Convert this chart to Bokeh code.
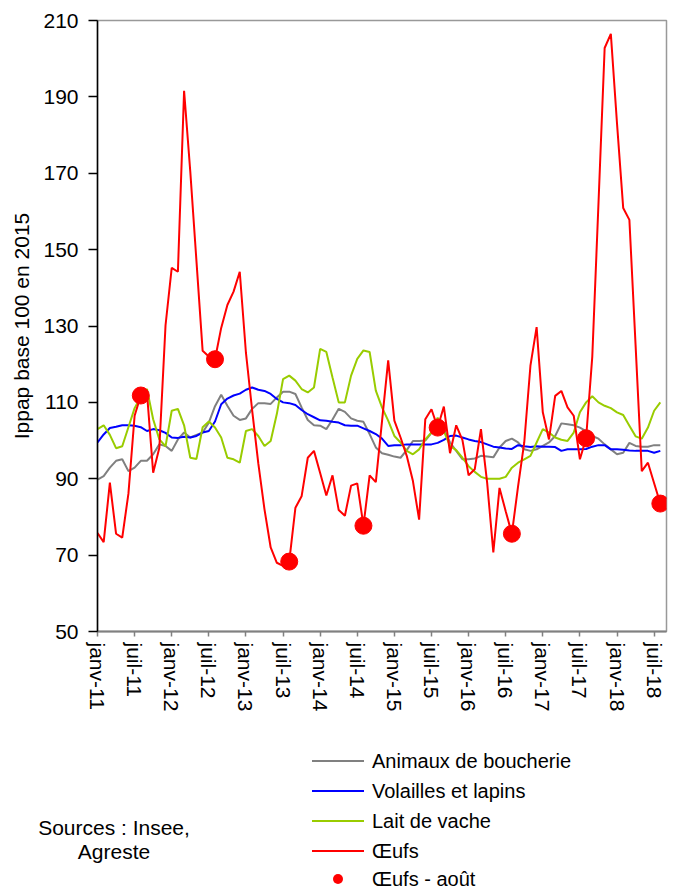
from bokeh.plotting import figure
from bokeh.layouts import column
from bokeh.models import Range1d, FixedTicker, Div
from bokeh.embed import file_html
from bokeh.resources import INLINE

# ---- data (monthly, janv-11 .. août-18) ----
tick_labels = ["janv-11", "juil-11", "janv-12", "juil-12", "janv-13", "juil-13",
               "janv-14", "juil-14", "janv-15", "juil-15", "janv-16", "juil-16",
               "janv-17", "juil-17", "janv-18", "juil-18"]

animaux = [89.8, 90.7, 92.9, 94.7, 95.1, 92.0, 92.9, 94.7, 94.7, 96.4, 99.0, 98.6,
           97.3, 100.3, 102.1, 100.8, 101.5, 102.1, 104.7, 109.0, 112.0, 109.1, 106.5, 105.4,
           105.8, 108.3, 109.8, 109.8, 109.6, 111.3, 112.8, 112.8, 112.2, 108.7, 105.4, 104.0,
           103.9, 103.0, 105.5, 108.3, 107.5, 105.8, 105.2, 104.9, 101.7, 98.2, 96.7, 96.3,
           95.8, 95.5, 97.5, 99.9, 99.9, 100.0, 102.0, 104.0, 103.0, 99.5, 97.3, 95.1,
           95.1, 95.3, 96.0, 95.8, 95.6, 98.2, 99.9, 100.5, 99.5, 97.7, 97.3, 97.7,
           98.6, 99.5, 101.2, 104.5, 104.3, 104.0, 103.4, 102.5, 101.2, 100.5, 99.0, 97.7,
           96.4, 96.8, 99.4, 98.6, 98.4, 98.4, 98.8, 98.8]

volailles = [99.5, 101.6, 103.3, 103.6, 104.0, 104.0, 103.9, 103.5, 102.5, 103.0, 102.7, 102.0,
             100.8, 100.7, 101.0, 100.8, 101.2, 102.1, 102.5, 105.0, 109.5, 111.0, 111.8, 112.3,
             113.3, 113.9, 113.3, 113.0, 112.2, 110.9, 110.0, 109.8, 109.3, 108.0, 106.9, 106.1,
             105.3, 105.2, 104.9, 104.7, 104.0, 103.9, 103.9, 103.2, 102.5, 101.7, 100.5, 98.6,
             98.8, 98.8, 99.0, 99.0, 99.0, 99.0, 99.0, 99.4, 100.2, 101.2, 101.3, 100.8,
             100.3, 99.9, 99.6, 99.0, 98.4, 98.2, 97.9, 97.8, 98.8, 98.5, 98.3, 98.5,
             98.4, 98.4, 98.3, 97.3, 97.7, 97.7, 97.7, 97.8, 98.4, 98.8, 98.8, 97.7,
             97.7, 97.6, 97.4, 97.3, 97.3, 97.3, 96.8, 97.3]

lait = [103.0, 104.0, 101.5, 98.0, 98.5, 103.5, 108.5, 111.5, 113.5, 105.6, 100.3, 98.5,
        107.8, 108.3, 104.0, 95.5, 95.2, 103.5, 105.0, 103.4, 100.8, 95.5, 95.1, 94.2,
        102.5, 103.0, 101.2, 98.6, 99.9, 107.0, 116.1, 117.0, 115.7, 113.5, 112.6, 113.9,
        124.0, 123.2, 116.5, 110.0, 110.0, 117.0, 121.4, 123.6, 123.2, 113.1, 108.7, 105.2,
        101.2, 99.5, 97.3, 96.4, 97.7, 100.3, 102.1, 106.0, 102.5, 98.6, 97.5, 95.5,
        93.3, 91.8, 90.5, 90.0, 90.0, 90.0, 90.5, 92.9, 94.2, 95.1, 96.0, 99.5,
        103.0, 102.1, 100.8, 100.2, 99.9, 102.1, 107.4, 110.0, 111.6, 110.0, 109.1, 108.5,
        107.4, 106.7, 103.9, 101.1, 100.5, 103.4, 107.8, 110.0]

oeufs = [75.8, 73.4, 89.0, 75.6, 74.6, 86.1, 106.5, 111.8, 112.5, 91.6, 98.1, 130.2,
         145.2, 144.2, 191.6, 170.5, 147.0, 123.5, 122.0, 121.3, 129.5, 135.5, 139.0, 144.2,
         123.0, 108.0, 94.0, 82.0, 72.0, 68.0, 67.2, 68.3, 82.4, 85.4, 95.5, 97.3,
         91.5, 85.6, 90.9, 81.8, 80.3, 88.2, 88.8, 77.7, 90.9, 89.1, 105.0, 121.0,
         105.2, 100.8, 96.0, 89.4, 79.3, 105.6, 108.2, 103.4, 108.9, 96.7, 104.0, 100.2,
         90.9, 92.5, 103.0, 89.0, 70.7, 87.6, 81.5, 75.6, 88.0, 99.5, 119.6, 129.7,
         107.4, 100.3, 111.7, 113.0, 108.7, 106.5, 95.1, 100.6, 122.0, 162.0, 202.8, 206.5,
         183.0, 160.9, 157.8, 125.0, 92.0, 94.2, 88.8, 83.5]

y_ticks = [50, 70, 90, 110, 130, 150, 170, 190, 210]
series_names = ["Animaux de boucherie", "Volailles et lapins", "Lait de vache", "Œufs", "Œufs - août"]
source_lines = ["Sources : Insee,", "Agreste"]

# ---- styling ----
FONT = "Liberation Sans"
FS = "21px"
c_gray, c_blue, c_green, c_red = "#808080", "#0000FF", "#99CC00", "#FF0000"

months = list(range(len(oeufs)))
aug_x = [m for m in months if m % 12 == 7]
aug_y = [oeufs[m] for m in aug_x]

W = 668
H1 = 718
FL, FT, FR, FB = 97, 20, 666, 631   # frame edges in canvas pixels
p = figure(width=W, height=H1, output_backend="svg", toolbar_location=None,
           x_range=Range1d(0, 92), y_range=Range1d(50, 210),
           min_border_left=FL, min_border_right=W - FR, min_border_top=FT,
           min_border_bottom=H1 - FB)
p.xgrid.visible = False
p.ygrid.visible = False
p.outline_line_color = "#999999"
p.outline_line_width = 1.5
p.background_fill_color = "white"
p.border_fill_color = "white"

p.line(months, animaux, line_color=c_gray, line_width=2)
p.line(months, volailles, line_color=c_blue, line_width=2)
p.line(months, lait, line_color=c_green, line_width=2)
p.line(months, oeufs, line_color=c_red, line_width=2)
p.scatter(aug_x, aug_y, size=17, fill_color=c_red, line_color=c_red)

# x axis
xa = p.xaxis[0]
xa.ticker = FixedTicker(ticks=[6 * k for k in range(len(tick_labels))])
xa.major_label_overrides = {6 * k: lab for k, lab in enumerate(tick_labels)}
xa.major_label_orientation = "vertical"
xa.axis_line_color = "#808080"
xa.axis_line_width = 2
xa.major_tick_line_color = "#808080"
xa.major_tick_line_width = 1.5
xa.major_tick_out = 5
xa.major_tick_in = 0
xa.minor_tick_line_color = None
xa.major_label_text_font = FONT
xa.major_label_text_font_size = FS
xa.major_label_text_color = "black"
xa.major_label_standoff = 6

# y axis
ya = p.yaxis[0]
ya.ticker = FixedTicker(ticks=y_ticks)
ya.axis_line_color = "black"
ya.axis_line_width = 1.5
ya.major_tick_line_color = "black"
ya.major_tick_line_width = 1.5
ya.major_tick_out = 9
ya.major_tick_in = 0
ya.minor_tick_line_color = None
ya.major_label_text_font = FONT
ya.major_label_text_font_size = FS
ya.major_label_text_color = "black"
ya.major_label_standoff = 10
ya.axis_label = "Ippap base 100 en 2015"
ya.axis_label_text_font = FONT
ya.axis_label_text_font_size = FS
ya.axis_label_text_font_style = "normal"
ya.axis_label_text_color = "black"
ya.axis_label_standoff = 7

# ---- legend and sources below the chart (HTML, page pixel positions) ----
H2 = 171
top = H1
rows = [761, 791, 821, 851, 879]
line_x0, line_x1 = 312, 364
text_x = 372
colors = [c_gray, c_blue, c_green, c_red]
parts = []
for r, c in zip(rows[:4], colors):
    parts.append(f'<div style="position:absolute;left:{line_x0}px;top:{r - top - 1}px;'
                 f'width:{line_x1 - line_x0}px;height:2px;background:{c};"></div>')
dot_c = (line_x0 + line_x1) // 2
parts.append(f'<div style="position:absolute;left:{dot_c - 5}px;top:{rows[4] - top - 5}px;'
             f'width:10px;height:10px;border-radius:50%;background:{c_red};"></div>')
for r, name in zip(rows, series_names):
    parts.append(f'<div style="position:absolute;left:{text_x}px;top:{r - top - 15}px;'
                 f'height:30px;line-height:30px;font-size:20px;white-space:nowrap;">{name}</div>')
parts.append(f'<div style="position:absolute;left:0px;width:228px;top:{828 - top - 12}px;'
             f'line-height:24px;font-size:21px;text-align:center;white-space:nowrap;">'
             + "<br>".join(source_lines) + '</div>')
html = (f'<div style="position:relative;width:{W}px;height:{H2}px;'
        f'font-family:\'Liberation Sans\',Arial,sans-serif;color:black;">' + "".join(parts) + '</div>')
leg = Div(text=html, width=W, height=H2, margin=0)

layout = column(p, leg, spacing=0)
open("out.html", "w").write(file_html(layout, INLINE))
